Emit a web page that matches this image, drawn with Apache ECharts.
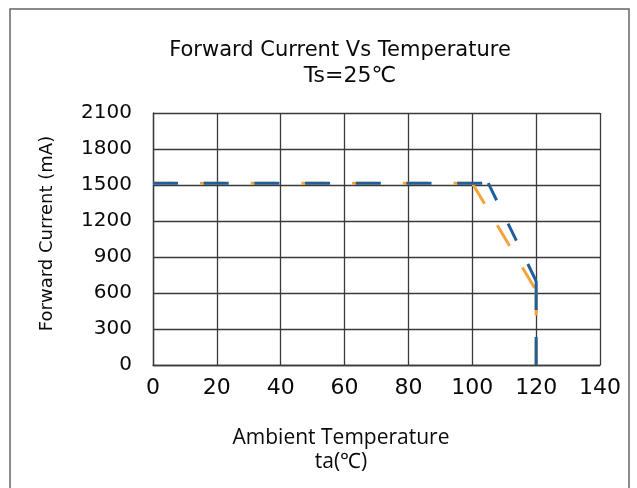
<!DOCTYPE html>
<html>
<head>
<meta charset="utf-8">
<script src="https://cdn.jsdelivr.net/npm/echarts@6/dist/echarts.min.js"></script>
<style>
  html, body { margin: 0; padding: 0; background: #fff; }
  #chart { width: 637px; height: 488px; }
</style>
</head>
<body>
<div id="chart"></div>
<script>
// ---- data ----
const titleLines = ['Forward Current Vs Temperature', 'Ts=25\u2103'];
const xAxisTitle = ['Ambient Temperature', 'ta(\u2103)'];
const yAxisTitle = 'Forward Current (mA)';
const xTicks = [0, 20, 40, 60, 80, 100, 120, 140];
const yTicks = [0, 300, 600, 900, 1200, 1500, 1800, 2100];
// curve vertices [temperature, current]
const blueCurve = [[0, 1515], [105, 1515], [120, 700], [120, 0]];
const orangeCurve = [[0, 1515], [100, 1515], [120, 620], [120, 0]];

// ---- styles ----
const BLUE = '#1F5F9C';
const ORANGE = '#F2A33A';
const blueDash = [[25, 25.7], [19, 26], [29, 27]];
const blueOffset = [0, 0, 0];
const orangeDash = [[25, 25.7], [24, 25], [25, 26]];
const orangeOffset = [3.7, 0, 0];

function segSeries(curve, color, dashes, offsets, z) {
  const out = [];
  for (let i = 0; i < curve.length - 1; i++) {
    out.push({
      type: 'line',
      data: [curve[i], curve[i + 1]],
      symbol: 'none',
      silent: true,
      z: z,
      lineStyle: { color: color, width: 3, type: dashes[i], dashOffset: offsets[i], cap: 'butt' }
    });
  }
  return out;
}

const chart = echarts.init(document.getElementById('chart'), null, { renderer: 'canvas' });
const gridColor = '#3a3a3a';
const txt = '#0a0a0a';
chart.setOption({
  animation: false,
  backgroundColor: '#fff',
  grid: { left: 153, top: 113, right: 37, bottom: 123, containLabel: false },
  xAxis: {
    type: 'value',
    min: xTicks[0], max: xTicks[xTicks.length - 1], interval: xTicks[1] - xTicks[0],
    name: xAxisTitle.join('\n'),
    nameLocation: 'middle',
    nameGap: 61,
    nameTextStyle: { fontFamily: 'Open Sans', fontSize: 21, color: txt, lineHeight: 24, padding: [0, 71, 0, 0] },
    axisLine: { show: true, lineStyle: { color: gridColor, width: 1.3 } },
    axisTick: { show: false },
    axisLabel: { fontFamily: 'DejaVu Sans', fontSize: 22, color: txt, margin: 12, formatter: v => String(v) },
    splitLine: { show: true, lineStyle: { color: gridColor, width: 1.3 } }
  },
  yAxis: {
    type: 'value',
    min: yTicks[0], max: yTicks[yTicks.length - 1], interval: yTicks[1] - yTicks[0],
    name: yAxisTitle,
    nameLocation: 'middle',
    nameRotate: 90,
    nameGap: 97,
    nameTextStyle: { fontFamily: 'DejaVu Sans', fontSize: 18, color: txt, padding: [0, 0, 0, 11] },
    axisLine: { show: true, lineStyle: { color: gridColor, width: 1.3 } },
    axisTick: { show: false },
    axisLabel: { fontFamily: 'DejaVu Sans', fontSize: 20, color: txt, margin: 21, formatter: v => String(v) },
    splitLine: { show: true, lineStyle: { color: gridColor, width: 1.3 } }
  },
  graphic: [
    { type: 'rect', silent: true, z: -1, shape: { x: 10, y: 9, width: 619, height: 500 },
      style: { fill: 'none', stroke: '#666', lineWidth: 1.5 } },
    { type: 'text', silent: true, x: 340, y: 51,
      style: { text: titleLines[0], font: '21px "DejaVu Sans"', fill: txt, align: 'center', verticalAlign: 'middle' } },
    { type: 'text', silent: true, x: 350, y: 76,
      style: { text: titleLines[1], font: '22px "DejaVu Sans"', fill: txt, align: 'center', verticalAlign: 'middle' } }
  ],
  series: [].concat(
    segSeries(orangeCurve, ORANGE, orangeDash, orangeOffset, 2),
    segSeries(blueCurve, BLUE, blueDash, blueOffset, 3)
  )
});
</script>
</body>
</html>
